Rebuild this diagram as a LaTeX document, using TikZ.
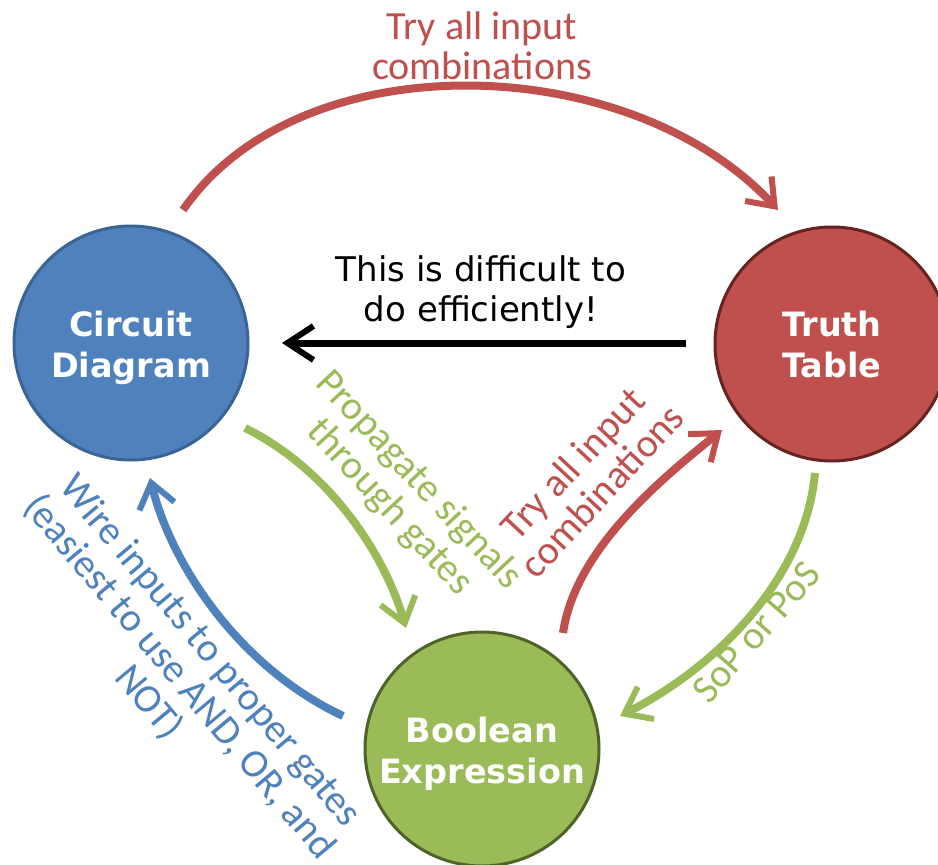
\documentclass[tikz,border=0pt]{standalone}
\usepackage{fontspec}
\setmainfont{Carlito}
\newfontfamily\dvsans{DejaVu Sans}
\usetikzlibrary{arrows.meta}
\definecolor{cblue}{HTML}{4F81BD}
\definecolor{cbluedark}{HTML}{3A6494}
\definecolor{cred}{HTML}{C0504D}
\definecolor{creddark}{HTML}{652422}
\definecolor{cgreen}{HTML}{9BBB59}
\definecolor{cgreendark}{HTML}{4F6228}
\begin{document}
\begin{tikzpicture}[x=1pt,y=-1pt,
  bubble/.style={circle, minimum size=234pt, inner sep=0pt, line width=3pt},
  bubbletext/.style={text=white, font=\dvsans\bfseries\fontsize{33.5}{41}\selectfont, align=center, inner sep=0pt},
  lbl/.style={font=\fontsize{40}{40}\selectfont, align=center, inner sep=0pt},
  flow/.style={line width=8pt, -{Straight Barb[length=24pt,width=36pt,line width=6pt]}},
]
\fill[white] (0,0) rectangle (938,865);
\clip (0,0) rectangle (938,865);

% circles
\node[bubble, fill=cblue, draw=cbluedark] (cd) at (131,343) {};
\node[bubbletext] (cdt) at (131,348) {Circuit\\Diagram};
\node[bubble, fill=cred, draw=creddark] (tt) at (832,344) {};
\node[bubbletext] (ttt) at (832,345) {Truth\\Table};
\node[bubble, fill=cgreen, draw=cgreendark] (be) at (482,749) {};
\node[bubbletext] (bet) at (482,754) {Boolean\\Expression};

% connector end points
\coordinate (a1s) at (183,210);
\coordinate (a1e) at (778,210);
\coordinate (a2s) at (686,343);
\coordinate (a2e) at (282,343);
\coordinate (a3s) at (245,428);
\coordinate (a3e) at (406,628);
\coordinate (a4s) at (563,633);
\coordinate (a4e) at (722,430);
\coordinate (a5s) at (815,473);
\coordinate (a5e) at (620,716);
\coordinate (a6s) at (343,716);
\coordinate (a6e) at (150,478);

% connectors
\draw[flow, cred] (a1s) .. controls (300,40) and (630,50) .. (a1e);
\draw[line width=7pt, -{Straight Barb[length=26pt,width=34pt,line width=6pt]}] (a2s) -- (a2e);
\draw[flow, cgreen] (a3s) .. controls (330,470) and (385,555) .. (a3e);
\draw[flow, cred] (a4s) .. controls (575,550) and (660,480) .. (a4e);
\draw[flow, cgreen] (a5s) .. controls (805,580) and (715,668) .. (a5e);
\draw[flow, cblue] (a6s) .. controls (235,665) and (170,560) .. (a6e);

% labels
\node[lbl, text=cred] (l1) at (482,46) {Try all input\\combinations};
\node[font=\dvsans\fontsize{34}{40}\selectfont, align=center, inner sep=0pt] (l2) at (481,292) {This is difficult to\\do efficiently!};
\node[lbl, text=cgreen, rotate=-47] (l3) at (404,494) {Propagate signals\\through gates};
\node[lbl, text=cred, rotate=47] (l4) at (587,477) {Try all input\\combinations};
\node[lbl, text=cgreen, rotate=49] (l5) at (756,632) {SoP or PoS};
\node[lbl, text=cblue, rotate=-50] (l6) at (179,677) {Wire inputs to proper gates\\(easiest to use AND, OR, and\\NOT)};
\end{tikzpicture}
\end{document}
